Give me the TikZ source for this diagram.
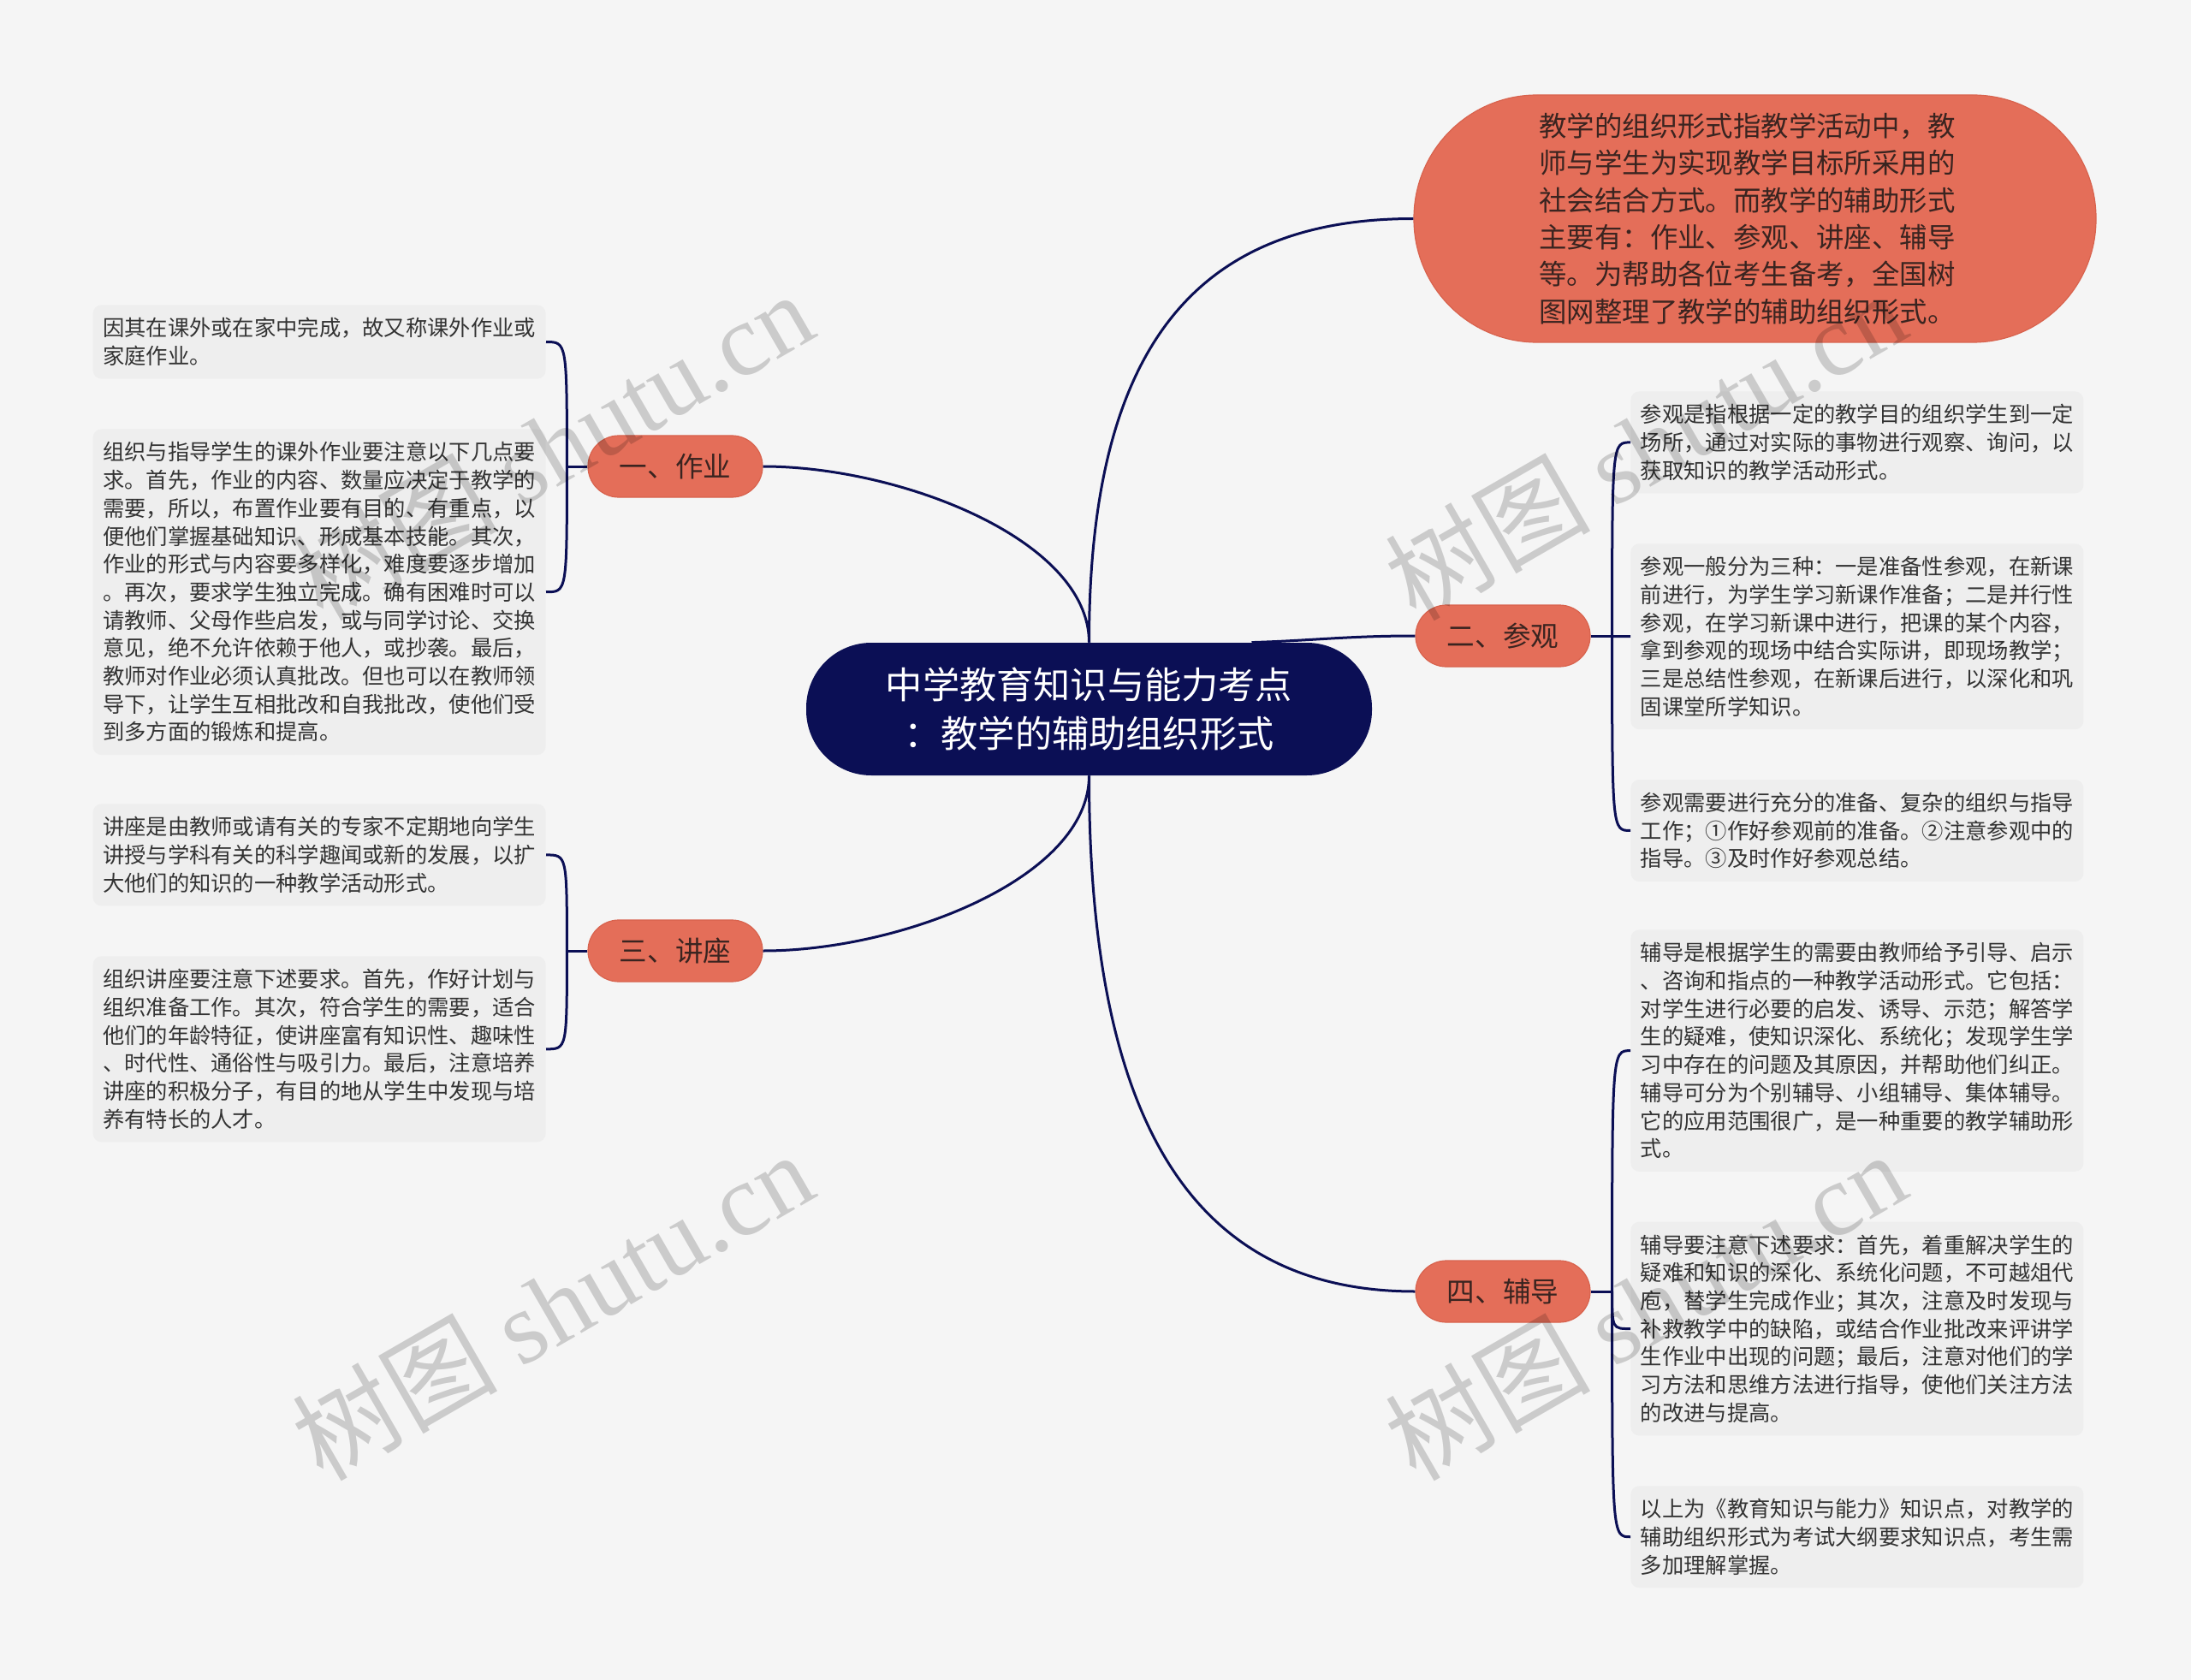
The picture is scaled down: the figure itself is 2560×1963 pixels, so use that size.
\documentclass[tikz,border=0pt]{standalone}
\usepackage{fontspec}
\setmainfont{Noto Sans CJK SC}
\newfontfamily\wmfont{Liberation Serif}
\usetikzlibrary{positioning}
\definecolor{navy}{HTML}{0B0F55}
\definecolor{coral}{HTML}{E46E59}
\definecolor{coralline}{HTML}{D8634E}
\definecolor{pagebg}{HTML}{F5F5F5}
\definecolor{leaffill}{HTML}{EEEEEE}
\definecolor{inkdark}{HTML}{3A2420}
\definecolor{leafink}{HTML}{333333}
\tikzset{
  link/.style={draw=navy,line width=1.5pt},
  rootbox/.style={fill=navy,text=white,rounded corners=38pt,minimum width=330.5pt,
    minimum height=77.5pt,align=center,inner sep=0pt,
    font=\fontsize{21.6pt}{28.6pt}\selectfont},
  descbox/.style={fill=coral,draw=coralline,line width=0.6pt,rounded corners=72pt,
    minimum width=398.5pt,minimum height=144.5pt,text width=252pt,align=left,
    text=inkdark,font=\fontsize{16.2pt}{21.7pt}\selectfont},
  branch/.style={fill=coral,draw=coralline,line width=0.6pt,rounded corners=18pt,
    minimum width=102pt,minimum height=36pt,inner sep=0pt,text=inkdark,
    font=\fontsize{16.3pt}{20pt}\selectfont},
  leaf/.style={fill=leaffill,rounded corners=5pt,text width=253pt,inner xsep=5.75pt,
    inner ysep=7.5pt,align=left,text=leafink,font=\fontsize{12.65pt}{16.35pt}\selectfont},
  wmark/.style={rotate=30,text=black,text opacity=0.17,font=\fontsize{60pt}{60pt}\selectfont},
}
\begin{document}
\begin{tikzpicture}[x=0.5pt,y=-0.5pt]
\fill[pagebg] (0,0) rectangle (2560,1963);
\useasboundingbox (0,0) rectangle (2560,1963);
\node[rootbox] (root) at (1272.5,828.5) {中学教育知识与能力考点\\：教学的辅助组织形式};
\node[descbox] (desc) at (2050.5,255.5) {教学的组织形式指教学活动中，教\\师与学生为实现教学目标所采用的\\社会结合方式。而教学的辅助形式\\主要有：作业、参观、讲座、辅导\\等。为帮助各位考生备考，全国树\\图网整理了教学的辅助组织形式。};
\node[branch] (zy) at (789,545) {一、作业};
\node[branch] (jz) at (789,1111) {三、讲座};
\node[branch] (cg) at (1756,743) {二、参观};
\node[branch] (fd) at (1756,1509) {四、辅导};
\node[leaf,anchor=north east] (zy1) at (638,356)
  {因其在课外或在家中完成，故又称课外作业或\\家庭作业。};
\node[leaf,below=29pt of zy1] (zy2)
  {组织与指导学生的课外作业要注意以下几点要\\求。首先，作业的内容、数量应决定于教学的\\需要，所以，布置作业要有目的、有重点，以\\便他们掌握基础知识、形成基本技能。其次，\\作业的形式与内容要多样化，难度要逐步增加\\。再次，要求学生独立完成。确有困难时可以\\请教师、父母作些启发，或与同学讨论、交换\\意见，绝不允许依赖于他人，或抄袭。最后，\\教师对作业必须认真批改。但也可以在教师领\\导下，让学生互相批改和自我批改，使他们受\\到多方面的锻炼和提高。};
\node[leaf,anchor=north east] (jz1) at (638,939)
  {讲座是由教师或请有关的专家不定期地向学生\\讲授与学科有关的科学趣闻或新的发展，以扩\\大他们的知识的一种教学活动形式。};
\node[leaf,below=29pt of jz1] (jz2)
  {组织讲座要注意下述要求。首先，作好计划与\\组织准备工作。其次，符合学生的需要，适合\\他们的年龄特征，使讲座富有知识性、趣味性\\、时代性、通俗性与吸引力。最后，注意培养\\讲座的积极分子，有目的地从学生中发现与培\\养有特长的人才。};
\node[leaf,anchor=north west] (cg1) at (1905,457)
  {参观是指根据一定的教学目的组织学生到一定\\场所，通过对实际的事物进行观察、询问，以\\获取知识的教学活动形式。};
\node[leaf,below=29pt of cg1] (cg2)
  {参观一般分为三种：一是准备性参观，在新课\\前进行，为学生学习新课作准备；二是并行性\\参观，在学习新课中进行，把课的某个内容，\\拿到参观的现场中结合实际讲，即现场教学；\\三是总结性参观，在新课后进行，以深化和巩\\固课堂所学知识。};
\node[leaf,below=29pt of cg2] (cg3)
  {参观需要进行充分的准备、复杂的组织与指导\\工作；①作好参观前的准备。②注意参观中的\\指导。③及时作好参观总结。};
\node[leaf,anchor=north west] (fd1) at (1905,1086)
  {辅导是根据学生的需要由教师给予引导、启示\\、咨询和指点的一种教学活动形式。它包括：\\对学生进行必要的启发、诱导、示范；解答学\\生的疑难，使知识深化、系统化；发现学生学\\习中存在的问题及其原因，并帮助他们纠正。\\辅导可分为个别辅导、小组辅导、集体辅导。\\它的应用范围很广，是一种重要的教学辅助形\\式。};
\node[leaf,below=29pt of fd1] (fd2)
  {辅导要注意下述要求：首先，着重解决学生的\\疑难和知识的深化、系统化问题，不可越俎代\\庖，替学生完成作业；其次，注意及时发现与\\补救教学中的缺陷，或结合作业批改来评讲学\\生作业中出现的问题；最后，注意对他们的学\\习方法和思维方法进行指导，使他们关注方法\\的改进与提高。};
\node[leaf,below=29pt of fd2] (fd3)
  {以上为《教育知识与能力》知识点，对教学的\\辅助组织形式为考试大纲要求知识点，考生需\\多加理解掌握。};
\draw[link] (root.north) .. controls +(0,-350) and +(-250,0) .. (desc.west);
\draw[link] (root.north) .. controls +(0,-120) and +(160,0) .. (zy.east);
\draw[link] ([xshift=95pt]root.north) .. controls +(70,-2) and +(-80,0) .. (cg.west);
\draw[link] (root.south) .. controls +(0,120) and +(160,0) .. (jz.east);
\draw[link] (root.south) .. controls +(0,420) and +(-250,0) .. (fd.west);
\draw[link] (zy.west) -- ++(-24,0) coordinate (zyj);
\draw[link] (zyj) .. controls (zyj |- zy1.east) and (zyj |- zy1.east) .. (zy1.east);
\draw[link] (zyj) .. controls (zyj |- zy2.east) and (zyj |- zy2.east) .. (zy2.east);
\draw[link] (jz.west) -- ++(-24,0) coordinate (jzj);
\draw[link] (jzj) .. controls (jzj |- jz1.east) and (jzj |- jz1.east) .. (jz1.east);
\draw[link] (jzj) .. controls (jzj |- jz2.east) and (jzj |- jz2.east) .. (jz2.east);
\draw[link] (cg.east) -- ++(25,0) coordinate (cgj);
\draw[link] (cgj) .. controls (cgj |- cg1.west) and (cgj |- cg1.west) .. (cg1.west);
\draw[link] (cgj) .. controls (cgj |- cg2.west) and (cgj |- cg2.west) .. (cg2.west);
\draw[link] (cgj) .. controls (cgj |- cg3.west) and (cgj |- cg3.west) .. (cg3.west);
\draw[link] (fd.east) -- ++(25,0) coordinate (fdj);
\draw[link] (fdj) .. controls (fdj |- fd1.west) and (fdj |- fd1.west) .. (fd1.west);
\draw[link] (fdj) .. controls (fdj |- fd2.west) and (fdj |- fd2.west) .. (fd2.west);
\draw[link] (fdj) .. controls (fdj |- fd3.west) and (fdj |- fd3.west) .. (fd3.west);
\node[wmark] (wm1) at (645,520) {树图 {\wmfont shutu.cn}};
\node[wmark] (wm2) at (1922,520) {树图 {\wmfont shutu.cn}};
\node[wmark] (wm3) at (645,1525) {树图 {\wmfont shutu.cn}};
\node[wmark] (wm4) at (1922,1525) {树图 {\wmfont shutu.cn}};
\end{tikzpicture}
\end{document}
